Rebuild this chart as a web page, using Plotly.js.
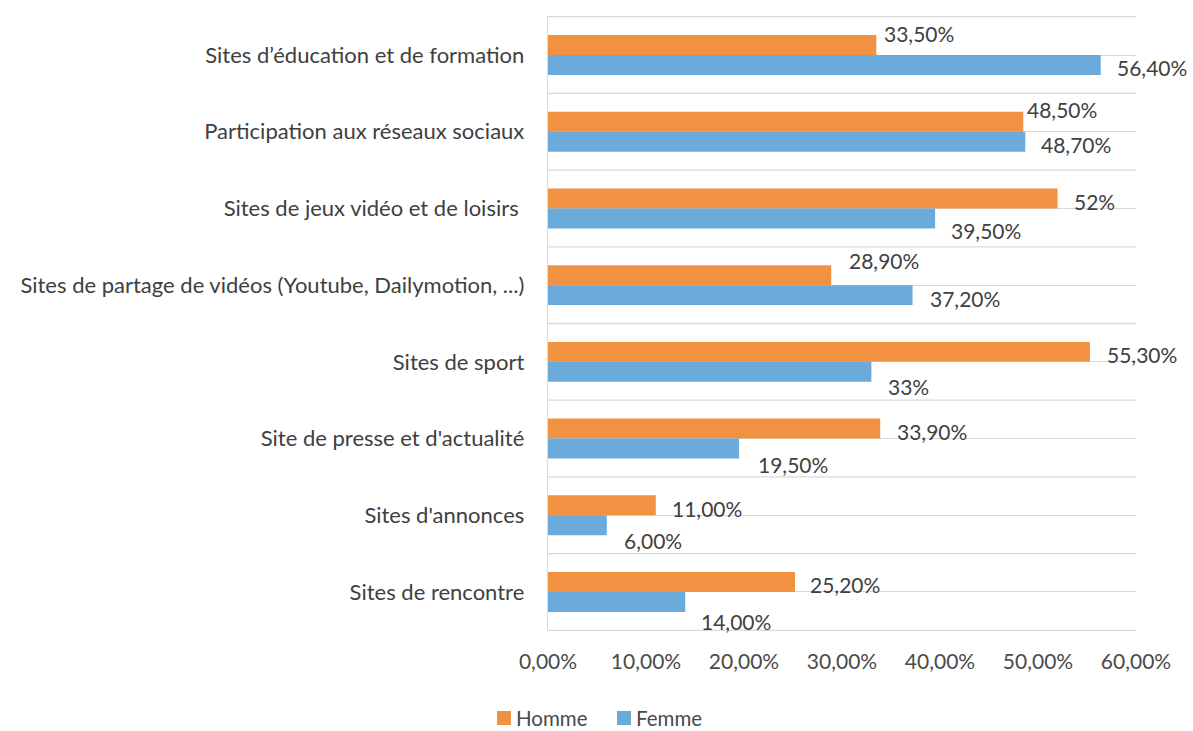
<!DOCTYPE html>
<html>
<head>
<meta charset="utf-8">
<script src="https://cdn.plot.ly/plotly-3.0.1.min.js"></script>
<style>html,body{margin:0;padding:0;background:#fff;}#chart{width:1193px;height:731px;}</style>
</head>
<body>
<div id="chart"></div>
<script>
// ---- data ----
const categories = [
  "Sites d\u2019éducation et de formation",
  "Participation aux réseaux sociaux",
  "Sites de jeux vidéo et de loisirs\u00a0",
  "Sites de partage de vidéos (Youtube, Dailymotion, ...)",
  "Sites de sport",
  "Site de presse et d'actualité",
  "Sites d'annonces",
  "Sites de rencontre"
];
const homme = [33.5, 48.5, 52, 28.9, 55.3, 33.9, 11, 25.2];
const femme = [56.4, 48.7, 39.5, 37.2, 33, 19.5, 6, 14];
const hommeLabels = ["33,50%", "48,50%", "52%", "28,90%", "55,30%", "33,90%", "11,00%", "25,20%"];
const femmeLabels = ["56,40%", "48,70%", "39,50%", "37,20%", "33%", "19,50%", "6,00%", "14,00%"];
const xTicks = [0, 10, 20, 30, 40, 50, 60];
const xTickLabels = ["0,00%", "10,00%", "20,00%", "30,00%", "40,00%", "50,00%", "60,00%"];
const seriesNames = ["Homme", "Femme"];

// ---- label nudges (style, pixels) ----
const hommeNudgeX = [9, 5, 17, 19, 18, 18, 17, 16];
const hommeNudgeY = [-12, -12, 3, -15, 3, 3, 3, 2];
const femmeNudgeX = [17, 17, 17, 18, 18, 20, 18, 17];
const femmeNudgeY = [3, 3, 12, 3, 15, 16, 15, 20];

const orange = "#F19142";
const blue = "#6AABDC";
const textCol = "#404040";
const tickCol = "#4a4a4a";
const gridCol = "#D9D9D9";
const FONT = "Lato, 'Open Sans', sans-serif";
const bargap = 0.48;

const traces = [
  {type: "bar", orientation: "h", name: seriesNames[0], y: categories, x: homme,
   marker: {color: orange}, hoverinfo: "skip"},
  {type: "bar", orientation: "h", name: seriesNames[1], y: categories, x: femme,
   marker: {color: blue}, hoverinfo: "skip"}
];

const off = (1 - bargap) / 4;
const annotations = [];
categories.forEach((c, i) => {
  annotations.push({x: homme[i], y: i - off, xref: "x", yref: "y", text: hommeLabels[i],
    showarrow: false, xanchor: "left", yanchor: "middle",
    xshift: hommeNudgeX[i] - 3, yshift: -hommeNudgeY[i],
    font: {family: FONT, size: 21, color: textCol}});
  annotations.push({x: femme[i], y: i + off, xref: "x", yref: "y", text: femmeLabels[i],
    showarrow: false, xanchor: "left", yanchor: "middle",
    xshift: femmeNudgeX[i] - 3, yshift: -femmeNudgeY[i],
    font: {family: FONT, size: 21, color: textCol}});
});

const shapes = [];
for (let k = 0; k <= categories.length; k++) {
  shapes.push({type: "line", xref: "paper", yref: "y", x0: 0, x1: 1,
    y0: k - 0.5, y1: k - 0.5, line: {color: gridCol, width: 1.3}, layer: "below"});
}

// custom legend (pixel positions converted to paper coordinates)
const L = 548, W = 588, T = 16, H = 615;
const px = v => (v - L) / W;
const py = v => (T + H - v) / H;
const legendItems = [
  {name: seriesNames[0], color: orange, x: 497},
  {name: seriesNames[1], color: blue, x: 617}
];
legendItems.forEach(it => {
  shapes.push({type: "rect", xref: "paper", yref: "paper",
    x0: px(it.x), x1: px(it.x + 14), y0: py(725), y1: py(711),
    fillcolor: it.color, line: {width: 0}});
  annotations.push({xref: "paper", yref: "paper", x: px(it.x + 18), y: py(718),
    xanchor: "left", yanchor: "middle", showarrow: false, text: it.name, borderpad: 0,
    font: {family: FONT, size: 20.5, color: tickCol}});
});

const layout = {
  width: 1193, height: 731,
  margin: {l: 548, r: 57, t: 16, b: 100, pad: 0},
  paper_bgcolor: "#fff", plot_bgcolor: "#fff",
  barmode: "group", bargap: bargap, bargroupgap: 0,
  font: {family: FONT, size: 21, color: textCol},
  xaxis: {range: [0, 60], tickvals: xTicks, ticktext: xTickLabels,
    showgrid: false, zeroline: false, showline: false, ticks: "",
    ticklabelstandoff: 16, tickfont: {family: FONT, size: 21, color: tickCol}},
  yaxis: {autorange: "reversed", type: "category", showgrid: true, gridcolor: gridCol, gridwidth: 1,
    showline: true, linecolor: gridCol, linewidth: 1.3, zeroline: false, ticks: "",
    ticklabelstandoff: 18, tickfont: {family: FONT, size: 22, color: textCol}},
  showlegend: false,
  annotations: annotations,
  shapes: shapes
};

Plotly.newPlot("chart", traces, layout, {staticPlot: true, displayModeBar: false});
</script>
</body>
</html>
